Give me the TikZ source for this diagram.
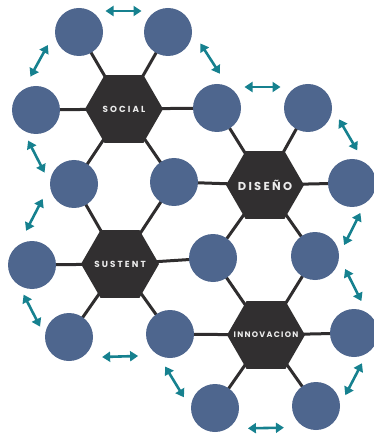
\documentclass[tikz,border=0pt]{standalone}
\usepackage{fontspec}
\setmainfont{Poppins}
\usetikzlibrary{shapes.geometric,arrows.meta,calc}
\definecolor{cblue}{HTML}{4E668E}
\definecolor{hexc}{HTML}{312F30}
\definecolor{arrc}{HTML}{16818F}
\definecolor{linec}{HTML}{2F2D2E}
\definecolor{txtc}{HTML}{ECECEC}
\newcommand\arrowbetween[2]{%
  \draw[arr] ($($(#1)!0.5!(#2)$)!18pt!(#1)!21pt!-90:(#1)$) --
             ($($(#1)!0.5!(#2)$)!18pt!(#2)!21pt!90:(#2)$);}
\begin{document}
\begin{tikzpicture}[x=1pt,y=-1pt,
  circ/.style={circle, fill=cblue, minimum size=48pt, inner sep=0pt},
  hexa/.style={regular polygon, regular polygon sides=6, fill=hexc, minimum size=78pt, inner sep=0pt},
  lbl/.style={text=txtc, inner sep=0pt, font=\bfseries\fontsize{8.8}{8.8}\selectfont\addfontfeatures{LetterSpace=24}},
  smlbl/.style={text=txtc, inner sep=0pt, font=\bfseries\fontsize{8}{8}\selectfont\addfontfeatures{LetterSpace=16}},
  biglbl/.style={text=txtc, inner sep=0pt, font=\bfseries\fontsize{11.5}{11.5}\selectfont\addfontfeatures{LetterSpace=20}},
  arr/.style={arrc, line width=2.6pt, {Triangle[width=10pt,length=8pt]}-{Triangle[width=10pt,length=8pt]}},
  link/.style={linec, line width=3pt}]
\useasboundingbox (0,0) rectangle (373,435);
% hexagon centres
\coordinate (hs) at (124,109);
\coordinate (hu) at (120,264);
\coordinate (hd) at (265,185);
\coordinate (hi) at (266,335);
% circle centres
\coordinate (p1) at (79,32);
\coordinate (p2) at (168,32);
\coordinate (p3) at (36,110);
\coordinate (p4) at (217,108);
\coordinate (p5) at (74,184);
\coordinate (p6) at (174,182);
\coordinate (p7) at (308,108);
\coordinate (p8) at (352,183);
\coordinate (p9) at (213,258);
\coordinate (p10) at (315,256);
\coordinate (p11) at (32,265);
\coordinate (p12) at (69,337);
\coordinate (p13) at (170,334);
\coordinate (p14) at (354,333);
\coordinate (p15) at (215,408);
\coordinate (p16) at (316,406);
% links
\foreach \p in {p1,p2,p3,p4,p5,p6} \draw[link] (hs) -- (\p);
\foreach \p in {p5,p6,p11,p12,p13,p9} \draw[link] (hu) -- (\p);
\foreach \p in {p4,p7,p8,p10,p9,p6} \draw[link] (hd) -- (\p);
\foreach \p in {p9,p10,p14,p16,p15,p13} \draw[link] (hi) -- (\p);
% hexagons
\node[hexa] (social) at (hs) {};
\node[hexa] (sustent) at (hu) {};
\node[hexa] (diseno) at (hd) {};
\node[hexa] (innov) at (hi) {};
\node[lbl] (tsocial) at (social) {SOCIAL};
\node[lbl] (tsustent) at (sustent) {SUSTENT};
\node[biglbl] (tdiseno) at (diseno) {DISEÑO};
\node[smlbl] (tinnov) at (innov) {INNOVACION};
% circles
\foreach \p in {p1,p2,p3,p4,p5,p6,p7,p8,p9,p10,p11,p12,p13,p14,p15,p16}
  \node[circ] (c\p) at (\p) {};
% arrows (clockwise around the outside)
\arrowbetween{p1}{p2}
\arrowbetween{p2}{p4}
\arrowbetween{p4}{p7}
\arrowbetween{p7}{p8}
\arrowbetween{p8}{p10}
\arrowbetween{p10}{p14}
\arrowbetween{p14}{p16}
\arrowbetween{p16}{p15}
\arrowbetween{p15}{p13}
\arrowbetween{p13}{p12}
\arrowbetween{p12}{p11}
\arrowbetween{p11}{p5}
\arrowbetween{p5}{p3}
\arrowbetween{p3}{p1}
\end{tikzpicture}
\end{document}
